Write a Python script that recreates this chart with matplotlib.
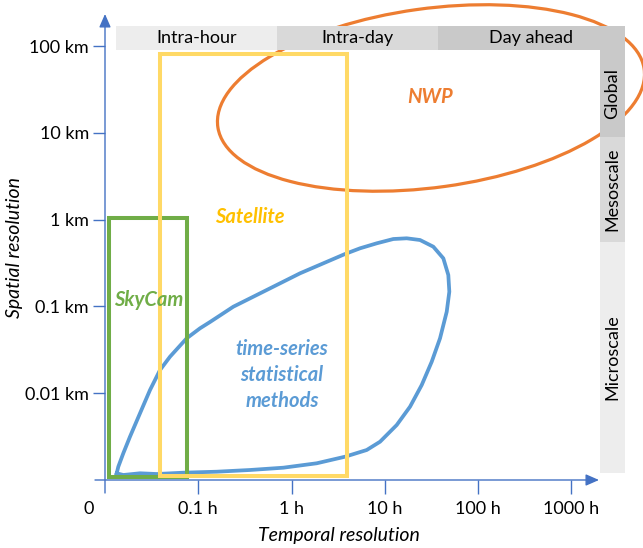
import matplotlib.pyplot as plt
import numpy as np
from matplotlib.patches import Ellipse, Rectangle

plt.rcParams["font.family"] = ["Lato", "DejaVu Sans"]

# axis ticks
x_ticks = [0.1, 1, 10, 100, 1000]
x_tick_labels = ["0.1 h", "1 h", "10 h", "100 h", "1000 h"]
y_ticks = [0.01, 0.1, 1, 10, 100]
y_tick_labels = ["0.01 km", "0.1 km", "1 km", "10 km", "100 km"]

# method regions (hours, km)
skycam_hours = [0.011, 0.0757]
skycam_km = [0.00108, 1.04]
satellite_hours = [0.039, 3.94]
satellite_km = [0.00111, 81]
nwp_center = (31.3, 25.2)
nwp_size_decades = (4.62, 2.06)
nwp_angle = 8.5

# time-series statistical methods outline
ts_hours = [0.01335, 0.01389, 0.01571, 0.01853, 0.02373, 0.03039, 0.0389, 0.04978,
            0.07516, 0.1044, 0.1337, 0.2376, 0.542, 1.234, 3.748, 5.428, 8.2, 12.35,
            17.19, 23.88, 33.16, 42.45, 48.02, 49.23, 46.17, 39.13, 31.88, 24.9, 18.66,
            13.43, 8.894, 6.402, 3.748, 1.863, 0.8168, 0.3589, 0.1577, 0.06914, 0.03584,
            0.02373, 0.01571, 0.01335]
ts_km = [0.001195, 0.001423, 0.002031, 0.003154, 0.005868, 0.01089, 0.01851, 0.02634,
         0.0429, 0.05593, 0.06612, 0.0992, 0.1545, 0.2406, 0.4016, 0.467, 0.5333, 0.5977,
         0.609, 0.5821, 0.4873, 0.3581, 0.23, 0.1477, 0.08687, 0.0429, 0.02306, 0.01243,
         0.006992, 0.004301, 0.00276, 0.002216, 0.001855, 0.001558, 0.001386, 0.001304,
         0.001246, 0.001214, 0.001172, 0.001195, 0.001142, 0.001195]

# forecast horizon / spatial scale bands
horizon_labels = ["Intra-hour", "Intra-day", "Day ahead"]
horizon_edges = [0.0131, 0.70, 37, 3770]
horizon_km = [90, 170]
scale_labels = ["Global", "Mesoscale", "Microscale"]
scale_edges = [170, 8.96, 0.552, 0.0012]
scale_hours = [2030, 3770]
band_colors = ["#EDEDED", "#D9D9D9", "#C9C9C9"]

fig = plt.figure(figsize=(6.43, 5.48), dpi=100)
ax = fig.add_axes([105 / 643, 68 / 548, 538 / 643, 480 / 548])
ax.set_xscale("log")
ax.set_yscale("log")
ax.set_xlim(0.01, 5875)
ax.set_ylim(0.001, 339)
for s in ax.spines.values():
    s.set_visible(False)

axis_color = "#4472C4"
ax.set_xticks(x_ticks, x_tick_labels)
ax.set_yticks(y_ticks, y_tick_labels)
ax.minorticks_off()
ax.tick_params(axis="x", length=10, width=1, color=axis_color, labelsize=13, pad=5)
ax.tick_params(axis="y", length=8.6, width=1, color=axis_color, labelsize=13, pad=3)

arrow = dict(arrowstyle="-|>,head_length=0.8,head_width=0.35", color=axis_color, lw=1,
             shrinkA=0, shrinkB=0)
ax.annotate("", xy=(494 / 538, 0), xytext=(-10 / 538, 0), xycoords="axes fraction",
            arrowprops=arrow, annotation_clip=False)
ax.annotate("", xy=(0, 466 / 480), xytext=(0, -13 / 480), xycoords="axes fraction",
            arrowprops=arrow, annotation_clip=False)
ax.annotate("0", xy=(0, 0), xycoords="axes fraction", xytext=(-16, -29),
            textcoords="offset pixels", ha="center", va="center", fontsize=13,
            annotation_clip=False)

# NWP ellipse (drawn in log space)
nwp = Ellipse((np.log10(nwp_center[0]), np.log10(nwp_center[1])), nwp_size_decades[0],
              nwp_size_decades[1], angle=nwp_angle, fill=False, ec="#ED7D31", lw=2.3,
              transform=ax.transLimits + ax.transAxes, clip_on=False, zorder=2)
ax.add_patch(nwp)

ax.plot(ts_hours, ts_km, color="#5B9BD5", lw=2.7, solid_joinstyle="round", zorder=3)
ax.add_patch(Rectangle((skycam_hours[0], skycam_km[0]), skycam_hours[1] - skycam_hours[0],
                       skycam_km[1] - skycam_km[0], fill=False, ec="#70AD47", lw=2.9, zorder=4))
ax.add_patch(Rectangle((satellite_hours[0], satellite_km[0]),
                       satellite_hours[1] - satellite_hours[0],
                       satellite_km[1] - satellite_km[0], fill=False, ec="#FFD966", lw=2.9,
                       zorder=5))

# bands
for i, label in enumerate(horizon_labels):
    x0, x1 = horizon_edges[i], horizon_edges[i + 1]
    ax.fill_between([x0, x1], horizon_km[0], horizon_km[1], color=band_colors[i], lw=0,
                    zorder=6)
    ax.text(np.sqrt(x0 * x1), np.sqrt(horizon_km[0] * horizon_km[1]), label, ha="center",
            va="center", fontsize=13, zorder=7)
for i, label in enumerate(scale_labels):
    y0, y1 = scale_edges[i + 1], scale_edges[i]
    ax.fill_between(scale_hours, y0, y1, color=band_colors[2 - i], lw=0, zorder=6)
    ymid = np.sqrt(y0 * min(y1, horizon_km[0]))
    ax.text(np.sqrt(scale_hours[0] * scale_hours[1]), ymid, label, ha="center",
            va="center", rotation=90, fontsize=13, zorder=7)

# region labels
lab = dict(fontsize=14.5, fontweight="bold", fontstyle="italic", ha="center", va="center",
           zorder=8)
ax.text(31, 25.8, "NWP", color="#ED7D31", **lab)
ax.text(0.359, 1.07, "Satellite", color="#FFC000", **lab)
ax.text(0.0296, 0.1185, "SkyCam", color="#70AD47", **lab)
ax.text(0.79, 0.0162, "time-series\nstatistical\nmethods", color="#5B9BD5",
        linespacing=1.38, **lab)

fig.text(339 / 643, 1 - 535 / 548, "Temporal resolution", fontsize=14, fontstyle="italic",
         ha="center", va="center")
fig.text(15 / 643, 1 - 248 / 548, "Spatial resolution", fontsize=14, fontstyle="italic",
         ha="center", va="center", rotation=90)

fig.savefig("out.png", dpi=100)
